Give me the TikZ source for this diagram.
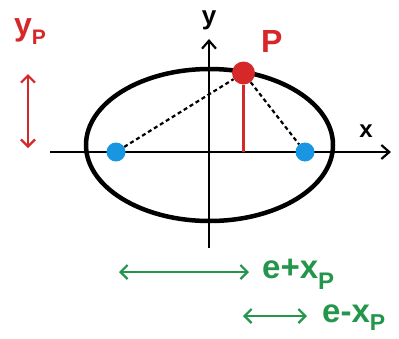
\documentclass[tikz,border=0pt]{standalone}
\usepackage{fontspec}
\setmainfont{Liberation Sans}
\usetikzlibrary{arrows.meta, positioning}
\definecolor{pred}{RGB}{214,40,40}
\definecolor{fblue}{RGB}{25,150,225}
\definecolor{dgreen}{RGB}{35,150,75}
\newcommand{\subP}[2]{\raisebox{#1}{\fontsize{#2}{#2}\selectfont P}}

\begin{document}
\begin{tikzpicture}[
    x=1pt, y=-1pt,
    font=\bfseries,
    ax/.style={line width=2.2pt, -{Straight Barb[length=8pt, width=14pt]}},
    dot/.style={circle, inner sep=0pt, minimum size=19pt},
    dist/.style={line width=2.2pt, {Straight Barb[length=7pt, width=14pt]}-{Straight Barb[length=7pt, width=14pt]}},
    lbl/.style={inner sep=0pt, anchor=base west}
]
\useasboundingbox (0,0) rectangle (399,338);
% axes
\coordinate (xs) at (50,152);
\coordinate (xe) at (391,152);
\coordinate (ys) at (209,248);
\coordinate (ye) at (209,39);
\draw[ax] (xs) -- (xe);
\draw[ax] (ys) -- (ye);
\node[anchor=base, inner sep=0pt] (xlab) at (366,137) {\fontsize{24}{24}\selectfont x};
\node[anchor=base, inner sep=0pt] (ylab) at (209,24) {\fontsize{26}{26}\selectfont y};
% ellipse
\draw[line width=4.5pt] (209.5,145) ellipse [x radius=123.5, y radius=76];
% foci and point P
\node[dot, fill=fblue] (f1) at (116,152) {};
\node[dot, fill=fblue] (f2) at (305,152) {};
\node[dot, fill=pred, minimum size=23pt] (P) at (243.5,73) {};
\coordinate (foot) at (243.5,152);
\draw[dash pattern=on 4pt off 3pt, line width=2.2pt] (f1) -- (P) -- (f2);
\draw[pred, line width=2.4pt] (P) -- (foot);
\node[lbl, pred] (Plab) at (261,52) {\fontsize{32}{32}\selectfont P};
% y_P
\node[lbl, pred] (yP) at (14,35) {\fontsize{32}{32}\selectfont y\subP{-9pt}{21}};
\coordinate (ya) at (28,74);
\coordinate (yb) at (28,148);
\draw[dist, pred] (ya) -- (yb);
% distances to the foci
\coordinate (d1a) at (119,272);
\coordinate (d1b) at (249,272);
\draw[dist, dgreen] (d1a) -- (d1b);
\node[lbl, dgreen] (ePlus) at (262,278) {\fontsize{33}{33}\selectfont e+x\subP{-11pt}{24}};
\coordinate (d2a) at (243,316);
\coordinate (d2b) at (307,316);
\draw[dist, dgreen] (d2a) -- (d2b);
\node[lbl, dgreen] (eMinus) at (322,322) {\fontsize{33}{33}\selectfont e-x\subP{-8pt}{23}};
\end{tikzpicture}
\end{document}
